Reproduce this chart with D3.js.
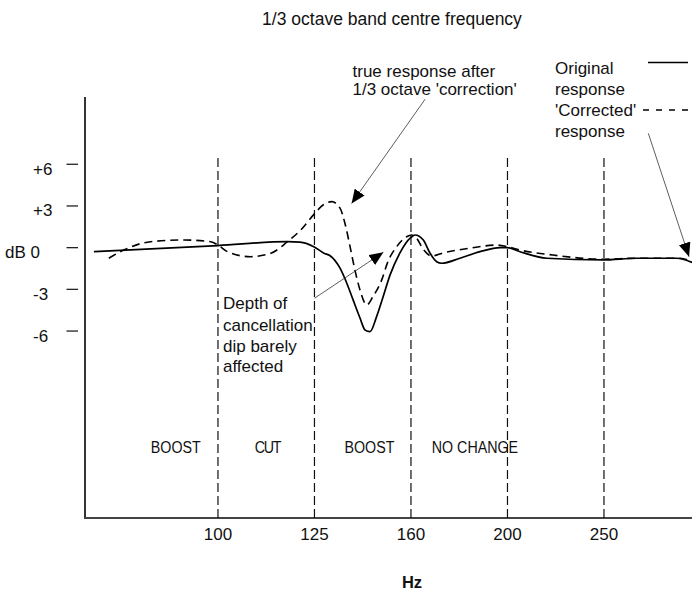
<!DOCTYPE html>
<html>
<head>
<meta charset="utf-8">
<script src="https://cdn.jsdelivr.net/npm/d3@7"></script>
<style>
  html, body { margin: 0; padding: 0; background: #ffffff; }
  svg { display: block; font-family: "Liberation Sans", Arial, Helvetica, sans-serif; }
</style>
</head>
<body>
<script>
// ---------- data ----------
// original (solid) response: [frequency Hz, level dB]
const originalResponse = [
  [74.3,-0.29],[100,0.15],[118.1,0.43],[121.7,0.40],[125.8,0.07],[128.9,-0.40],
  [130.8,-0.58],[133.9,-1.46],[136.1,-2.54],[138.2,-3.76],[140.5,-5.06],[142.2,-5.92],
  [143.9,-6.04],[146.2,-4.96],[148.5,-3.53],[151.0,-1.96],[154.6,-0.38],[158.4,0.68],
  [160.3,0.91],[163.5,0.55],[166.1,-0.38],[168.8,-1.01],[170.8,-1.12],[178.5,-0.76],
  [187.3,-0.29],[196.5,0.0],[200,0.0],[206.1,-0.29],[219.7,-0.76],[251.4,-0.88],
  [272.5,-0.76],[299.9,-0.76],[311.1,-1.06]
];
// 'corrected' (dashed) response
const correctedResponse = [
  [77.0,-0.76],[79.8,-0.17],[85.1,0.43],[92.2,0.55],[98.3,0.43],[100,0.19],
  [102.3,-0.29],[108.1,-0.65],[113.5,-0.40],[118.1,0.43],[121.9,1.27],[126.1,2.47],
  [128.6,3.07],[131.3,3.31],[133.9,2.86],[135.5,1.78],[137.2,0.07],[138.8,-1.60],
  [140.5,-3.04],[142.8,-4.12],[144.9,-3.53],[148.0,-2.32],[150.2,-1.01],[153.4,0.07],
  [157.1,0.79],[159.0,0.91],[160.9,0.68],[163.4,-0.10],[166.8,-0.60],[171.4,-0.38],
  [182.8,-0.04],[194.9,0.19],[200,0.07],[206.1,-0.17],[223.0,-0.53],[251.4,-0.83],
  [272.5,-0.76],[302.3,-0.76],[311.1,-1.01]
];
// 1/3 octave band centres (exact) and their nominal labels
const bandCentres = [100, 125.99, 158.74, 200, 251.98];
const bandTickLabels = ["100", "125", "160", "200", "250"];
// dB ticks
const dbTicks = [6, 3, 0, -3, -6];
const dbTickLabels = ["+6", "+3", "dB 0", "-3", "-6"];
// band action labels and the frequency they sit over
const bandActions = ["BOOST", "CUT", "BOOST", "NO CHANGE"];
const bandActionFreqs = [90.4, 112.6, 143.7, 185.0];
// annotation arrows: [fromHz, fromDb, toHz, toDb]
const arrows = [
  [164.2, 10.68, 137.7, 3.18],
  [126.0, -3.64, 148.6, -0.33],
  [280.2, 8.23, 308.9, -0.65]
];

// ---------- layout ----------
const W = 692, H = 592;
const plotLeft = 84, plotRight = 692, plotTop = 97, plotBottom = 518;

const x = d3.scaleLog().domain([72.56, 311.1]).range([plotLeft, plotRight]);
const y = d3.scaleLinear().domain([-19.45, 10.84]).range([plotBottom, plotTop]);

const svg = d3.select("body").append("svg").attr("width", W).attr("height", H);

const defs = svg.append("defs");
defs.append("marker")
  .attr("id", "arrowHead")
  .attr("markerUnits", "userSpaceOnUse")
  .attr("viewBox", "0 0 14 12")
  .attr("refX", 14).attr("refY", 6)
  .attr("markerWidth", 14).attr("markerHeight", 12)
  .attr("orient", "auto")
  .append("path").attr("d", "M0,0 L14,6 L0,12 Z").attr("fill", "#000");

// title
svg.append("text")
  .attr("x", 392).attr("y", 25)
  .attr("text-anchor", "middle")
  .attr("font-size", 17.5)
  .attr("fill", "#111")
  .text("1/3 octave band centre frequency");

// y axis line
svg.append("line")
  .attr("x1", plotLeft + 1).attr("x2", plotLeft + 1)
  .attr("y1", plotTop).attr("y2", plotBottom)
  .attr("stroke", "#333").attr("stroke-width", 2);

// x axis line
svg.append("line")
  .attr("x1", plotLeft).attr("x2", plotRight)
  .attr("y1", plotBottom).attr("y2", plotBottom)
  .attr("stroke", "#444").attr("stroke-width", 1.8);

// y ticks (detached short dashes) and labels
const yTicks = svg.append("g");
yTicks.selectAll("line").data(dbTicks).join("line")
  .attr("x1", 66.5).attr("x2", 78)
  .attr("y1", d => y(d)).attr("y2", d => y(d))
  .attr("stroke", "#222").attr("stroke-width", 1.3);
yTicks.selectAll("text").data(dbTicks).join("text")
  .attr("x", (d, i) => dbTickLabels[i].startsWith("dB") ? 5 : 33)
  .attr("y", d => y(d) + 10.5)
  .attr("font-size", 17)
  .attr("fill", "#111")
  .text((d, i) => dbTickLabels[i]);

// vertical dashed band lines
svg.append("g").selectAll("line").data(bandCentres).join("line")
  .attr("x1", d => x(d)).attr("x2", d => x(d))
  .attr("y1", y(6.45)).attr("y2", plotBottom)
  .attr("stroke", "#111").attr("stroke-width", 1.2)
  .attr("stroke-dasharray", "9,4");

// x tick labels
svg.append("g").selectAll("text").data(bandCentres).join("text")
  .attr("x", d => x(d))
  .attr("y", 540)
  .attr("text-anchor", "middle")
  .attr("font-size", 17)
  .attr("fill", "#111")
  .text((d, i) => bandTickLabels[i]);

// Hz label
svg.append("text")
  .attr("x", 412).attr("y", 588)
  .attr("text-anchor", "middle")
  .attr("font-size", 16.5)
  .attr("font-weight", "bold")
  .attr("fill", "#111")
  .text("Hz");

// band action labels (condensed)
svg.append("g").selectAll("text").data(bandActions).join("text")
  .attr("transform", (d, i) => `translate(${x(bandActionFreqs[i])},452.5) scale(0.84,1)`)
  .attr("text-anchor", "middle")
  .attr("font-size", 17)
  .attr("letter-spacing", (d) => d === "CUT" ? -1.5 : 0)
  .attr("fill", "#111")
  .text(d => d);

// curves
const line = d3.line()
  .x(d => x(d[0]))
  .y(d => y(d[1]))
  .curve(d3.curveMonotoneX);

svg.append("path")
  .datum(originalResponse)
  .attr("d", line)
  .attr("fill", "none")
  .attr("stroke", "#000")
  .attr("stroke-width", 1.7);

svg.append("path")
  .datum(correctedResponse)
  .attr("d", line)
  .attr("fill", "none")
  .attr("stroke", "#000")
  .attr("stroke-width", 1.6)
  .attr("stroke-dasharray", "8,5");

// annotation arrows
svg.append("g").selectAll("line").data(arrows).join("line")
  .attr("x1", d => x(d[0])).attr("y1", d => y(d[1]))
  .attr("x2", d => x(d[2])).attr("y2", d => y(d[3]))
  .attr("stroke", "#333").attr("stroke-width", 0.8)
  .attr("marker-end", "url(#arrowHead)");

// annotation texts
function multiline(lines, x0, baselines) {
  const t = svg.append("text").attr("font-size", 17).attr("fill", "#111");
  lines.forEach((s, i) => {
    t.append("tspan").attr("x", x0).attr("y", baselines[i]).text(s);
  });
}
multiline(["true response after", "1/3 octave 'correction'"], 352.5, [76.5, 95]);
multiline(["Depth  of", "cancellation", "dip barely", "affected"], 223, [309, 330.5, 351.5, 371.5]);
multiline(["Original", "response", "'Corrected'", "response"], 555, [73.5, 95, 116, 137]);

// legend samples
svg.append("line")
  .attr("x1", 648).attr("x2", 688).attr("y1", 62.5).attr("y2", 62.5)
  .attr("stroke", "#000").attr("stroke-width", 1.4);
svg.append("line")
  .attr("x1", 643).attr("x2", 688).attr("y1", 110).attr("y2", 110)
  .attr("stroke", "#000").attr("stroke-width", 1.4)
  .attr("stroke-dasharray", "6,7");
</script>
</body>
</html>
